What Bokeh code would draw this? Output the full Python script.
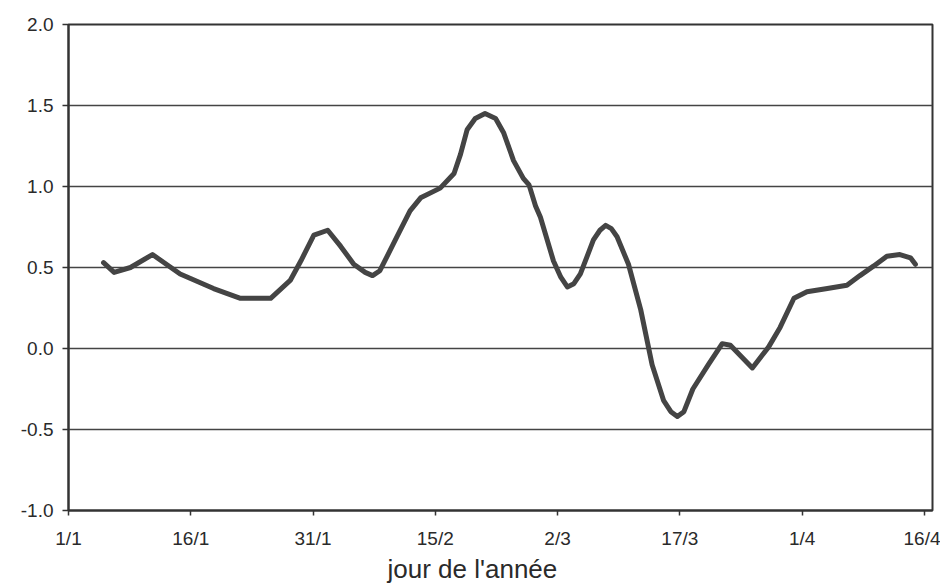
from bokeh.plotting import figure
from bokeh.models import Range1d, FixedTicker, Title
from bokeh.embed import file_html
from bokeh.resources import INLINE

# Data (day of year, value)
days = [5.3, 6.6, 8.6, 11.3, 14.7, 18.8, 22.1, 25.8, 28.2, 29.5, 31.1, 32.8, 34.4,
        36.0, 37.4, 38.3, 39.2, 41.3, 42.9, 44.2, 46.6, 48.3, 49.1, 49.9, 50.9,
        52.1, 53.4, 54.4, 55.6, 56.8, 57.5, 58.3, 58.9, 60.5, 61.4, 62.2, 63.0,
        63.8, 65.4, 66.2, 66.9, 67.6, 68.3, 69.7, 71.2, 72.6, 74.0, 74.9, 75.7,
        76.5, 77.6, 79.5, 81.2, 82.2, 84.9, 86.9, 88.3, 90.0, 91.6, 94.1, 96.5,
        98.1, 99.8, 101.4, 103.0, 104.3, 104.9]
values = [0.53, 0.47, 0.50, 0.58, 0.46, 0.37, 0.31, 0.31, 0.42, 0.54, 0.70, 0.73, 0.63,
          0.52, 0.47, 0.45, 0.48, 0.69, 0.85, 0.93, 0.99, 1.08, 1.20, 1.35, 1.42,
          1.45, 1.42, 1.33, 1.16, 1.05, 1.01, 0.88, 0.81, 0.54, 0.44, 0.38, 0.40,
          0.46, 0.67, 0.73, 0.76, 0.74, 0.69, 0.52, 0.24, -0.10, -0.32, -0.39, -0.42,
          -0.39, -0.25, -0.10, 0.03, 0.02, -0.12, 0.01, 0.13, 0.31, 0.35, 0.37, 0.39,
          0.45, 0.51, 0.57, 0.58, 0.56, 0.52]

tick_days = [1, 16, 31, 46, 61, 76, 91, 106]
tick_labels = ["1/1", "16/1", "31/1", "15/2", "2/3", "17/3", "1/4", "16/4"]
y_ticks = [-1.0, -0.5, 0.0, 0.5, 1.0, 1.5, 2.0]
y_tick_labels = ["-1.0", "-0.5", "0.0", "0.5", "1.0", "1.5", "2.0"]
x_title = "jour de l'année"

FONT = "Liberation Sans"
INK = "#333333"

p = figure(width=940, height=584, output_backend="svg", toolbar_location=None,
           x_range=Range1d(1, 107), y_range=Range1d(-1.0, 2.0),
           min_border_left=68, min_border_right=8, min_border_top=24,
           min_border_bottom=74)

p.background_fill_color = "white"
p.border_fill_color = "white"
p.outline_line_color = INK
p.outline_line_width = 2

p.xgrid.visible = False
p.ygrid.grid_line_color = "#444444"
p.ygrid.grid_line_width = 1.5
p.ygrid.ticker = FixedTicker(ticks=y_ticks)

p.xaxis.ticker = FixedTicker(ticks=tick_days)
p.xaxis.major_label_overrides = {d: l for d, l in zip(tick_days, tick_labels)}
p.yaxis.ticker = FixedTicker(ticks=y_ticks)
p.yaxis.major_label_overrides = {v: l for v, l in zip(y_ticks, y_tick_labels)}

for ax in (p.xaxis[0], p.yaxis[0]):
    ax.axis_line_color = INK
    ax.axis_line_width = 2
    ax.major_tick_line_color = INK
    ax.major_tick_line_width = 1.5
    ax.major_tick_in = 0
    ax.minor_tick_line_color = None
    ax.major_label_text_font = FONT
    ax.major_label_text_font_size = "19px"
    ax.major_label_text_color = "#2a2a2a"

p.yaxis.major_tick_out = 6
p.xaxis.major_tick_out = 5
p.yaxis.major_label_standoff = 9
p.xaxis.major_label_standoff = 12

p.line(days, values, line_color="#444444", line_width=5,
       line_join="round", line_cap="round")

title = Title(text=x_title, align="left", offset=319, standoff=0,
              text_font=FONT, text_font_size="26px", text_font_style="normal",
              text_color="#2a2a2a")
p.add_layout(title, "below")

open("out.html", "w").write(file_html(p, INLINE))
